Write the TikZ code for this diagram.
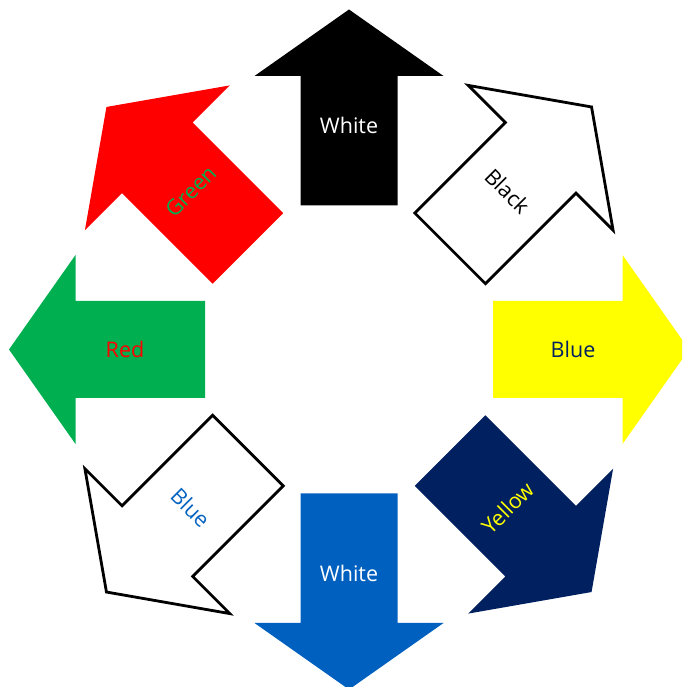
\documentclass[tikz,border=0pt]{standalone}
\usepackage{fontspec}
\setmainfont{Open Sans}
\usetikzlibrary{calc}
\definecolor{cRed}{HTML}{FF0000}
\definecolor{cGreen}{HTML}{00B050}
\definecolor{cYellow}{HTML}{FFFF00}
\definecolor{cBlue}{HTML}{0060C0}
\definecolor{cNavy}{HTML}{002060}
\definecolor{cTxtBlue}{HTML}{0563C1}
\newcommand{\orthoarrow}[2]{%
  \path[#2, shift={(349,337.5)}, rotate=#1]
    (144,-48.5) -- (273.5,-48.5) -- (273.5,-94.5) -- (340,0) -- (273.5,94.5) -- (273.5,48.5) -- (144,48.5) -- cycle;}
\newcommand{\diagarrow}[2]{%
  \path[#2, shift={(349,337.5)}, rotate=#1]
    (143,-50) -- (271,-50) -- (271,-102.5) -- (343,0) -- (271,102.5) -- (271,50) -- (143,50) -- cycle;}
\tikzset{
  lbl/.style={font=\fontsize{21.5}{25}\selectfont, inner sep=0pt},
  outlined/.style={draw=black, line width=2.8pt, fill=white, line join=miter},
}
\begin{document}
\begin{tikzpicture}[x=1pt,y=1pt]
\useasboundingbox (0,0) rectangle (682,687);
\clip (0,0) rectangle (682,687);
% orthogonal arrows
\orthoarrow{90}{fill=black}
\orthoarrow{0}{fill=cYellow}
\orthoarrow{-90}{fill=cBlue}
\orthoarrow{180}{fill=cGreen}
% diagonal arrows
\diagarrow{45}{outlined}
\diagarrow{135}{fill=cRed}
\diagarrow{225}{outlined}
\diagarrow{-45}{fill=cNavy}
% labels
\coordinate (c) at (349,337.5);
\node[lbl, text=white] (tN) at ($(c)+(90:224)$) {White};
\node[lbl, text=cNavy] (tE) at ($(c)+(0:224)$) {Blue};
\node[lbl, text=white] (tS) at ($(c)+(-90:224)$) {White};
\node[lbl, text=cRed] (tW) at ($(c)+(180:224)$) {Red};
\node[lbl, text=black, rotate=-45] (tNE) at ($(c)+(45:224)$) {Black};
\node[lbl, text=cGreen, rotate=45] (tNW) at ($(c)+(135:224)$) {Green};
\node[lbl, text=cTxtBlue, rotate=-45] (tSW) at ($(c)+(225:224)$) {Blue};
\node[lbl, text=cYellow, rotate=45] (tSE) at ($(c)+(-45:224)$) {Yellow};
\end{tikzpicture}
\end{document}
